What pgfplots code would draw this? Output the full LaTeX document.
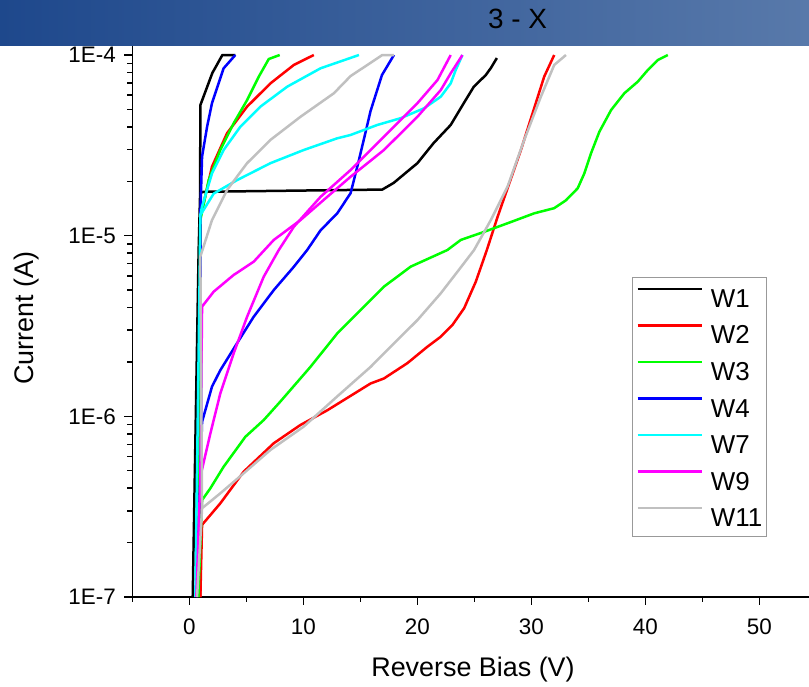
\documentclass[border=0pt]{standalone}
\usepackage{pgfplots}
\pgfplotsset{compat=1.18}
\usepackage{fontspec}
\setmainfont{Liberation Sans}
\definecolor{tbL}{RGB}{30,72,140}
\definecolor{tbR}{RGB}{88,121,170}
\definecolor{cRed}{RGB}{255,0,0}
\definecolor{cGreen}{RGB}{0,255,0}
\definecolor{cBlue}{RGB}{0,0,255}
\definecolor{cCyan}{RGB}{0,255,255}
\definecolor{cMag}{RGB}{255,0,255}
\definecolor{cGray}{RGB}{192,192,192}
\begin{document}
\begin{tikzpicture}
\path[use as bounding box] (0,0) rectangle (809bp,687bp);
\begin{axis}[
  at={(132.3bp,90bp)}, anchor=south west,
  scale only axis, width=676.7bp, height=551.3bp,
  xmin=-5, xmax=54.36, ymode=log, ymin=1e-7, ymax=1.1259e-4,
  axis x line*=bottom, axis y line*=left,
  axis line style={line width=1.5bp, black},
  xtick={0,10,20,30,40,50}, xticklabels={0,10,20,30,40,50},
  minor xtick={-5,5,15,25,35,45},
  ytick={1e-7,1e-6,1e-5,1e-4}, yticklabels={1E-7,1E-6,1E-5,1E-4},
  minor ytick={2e-7,3e-7,4e-7,5e-7,6e-7,7e-7,8e-7,9e-7,2e-6,3e-6,4e-6,5e-6,6e-6,7e-6,8e-6,9e-6,2e-5,3e-5,4e-5,5e-5,6e-5,7e-5,8e-5,9e-5},
  tick align=outside, major tick length=8bp, minor tick length=5bp,
  every tick/.style={black, line width=1.5bp},
  tick label style={font=\fontsize{22.5}{26}\selectfont},
  xticklabel style={yshift=-10bp},
  yticklabel style={xshift=-5bp},
  xlabel={Reverse Bias (V)}, ylabel={Current (A)},
  label style={font=\fontsize{27}{32}\selectfont},
  xlabel style={at={(axis description cs:0.5035,-0.1446)}, anchor=base},
  ylabel style={at={(axis description cs:-0.1463,0.506)}, anchor=base},
  legend style={at={(axis description cs:0.7384,0.5804)}, anchor=north west,
    draw=black!40, line width=1bp, fill=white,
    font=\fontsize{26}{30}\selectfont, inner xsep=4bp, inner ysep=10bp,
    row sep=16.7bp, column sep=8bp,
    nodes={inner sep=0pt, text height=18.6bp, text depth=0pt}},
  legend cell align=left,
  legend image code/.code={\draw[#1] (0bp,9.3bp) -- (64bp,9.3bp);},
  every axis plot/.append style={line width=2.5bp, line join=round},
]
% W1
\addplot[black] coordinates {(0.30,1e-7) (0.82,8.3e-6) (0.95,1.72e-5) (1.23,1.75e-5) (16.93,1.80e-5) (17.93,1.96e-5) (20.01,2.52e-5) (21.44,3.26e-5) (22.93,4.10e-5) (24.08,5.42e-5) (24.96,6.68e-5) (26.01,7.75e-5) (26.45,8.47e-5) (26.98,9.62e-5)};
\addlegendentry{W1}
\addplot[black, forget plot] coordinates {(0.95,1.72e-5) (0.97,5.28e-5) (2.02,7.95e-5) (2.90,1e-4) (4.04,1e-4)};
% W2
\addplot[cRed] coordinates {(0.97,1e-7) (1.12,2.51e-7) (2.72,3.30e-7) (4.77,4.94e-7) (7.41,7.10e-7) (9.75,8.96e-7) (12.10,1.08e-6) (15.90,1.52e-6) (17.07,1.62e-6) (19.13,1.97e-6) (20.89,2.43e-6) (22.06,2.76e-6) (23.09,3.21e-6) (24.11,3.97e-6) (25.13,5.56e-6) (26.10,8.33e-6) (27.04,1.27e-5) (29.09,2.98e-5) (31.13,7.59e-5) (32.01,1e-4)};
\addlegendentry{W2}
\addplot[cRed, forget plot] coordinates {(0.97,1e-7) (1.0,1.30e-5) (1.26,1.51e-5) (1.99,2.41e-5) (3.31,3.69e-5) (5.07,5.18e-5) (7.12,6.97e-5) (9.17,8.81e-5) (10.92,1e-4)};
% W3
\addplot[cGreen] coordinates {(0.79,1e-7) (1.12,3.44e-7) (1.85,4.0e-7) (3.01,5.26e-7) (4.92,7.71e-7) (6.53,9.54e-7) (8.00,1.21e-6) (10.63,1.88e-6) (12.98,2.88e-6) (15.91,4.41e-6) (17.07,5.22e-6) (19.42,6.74e-6) (22.64,8.33e-6) (23.81,9.47e-6) (25.86,1.05e-5) (28.21,1.19e-5) (30.26,1.33e-5) (32.01,1.42e-5) (33.04,1.57e-5) (34.07,1.83e-5) (34.65,2.21e-5) (35.24,2.86e-5) (35.97,3.76e-5) (37.00,4.96e-5) (38.16,6.14e-5) (39.34,7.12e-5) (40.22,8.26e-5) (41.10,9.38e-5) (41.98,1e-4)};
\addlegendentry{W3}
\addplot[cGreen, forget plot] coordinates {(0.79,1e-7) (0.97,1.22e-5) (1.70,2.03e-5) (2.72,2.98e-5) (3.89,4.19e-5) (5.07,5.63e-5) (6.09,7.58e-5) (6.97,9.50e-5) (7.93,1e-4)};
% W4
\addplot[cBlue] coordinates {(0.62,1e-7) (1.12,9.33e-7) (1.99,1.46e-6) (2.72,1.80e-6) (4.19,2.54e-6) (5.65,3.56e-6) (7.41,5.00e-6) (9.17,6.73e-6) (10.34,8.33e-6) (11.51,1.07e-5) (12.98,1.33e-5) (14.15,1.72e-5) (14.8,2.5e-5) (15.4,3.6e-5) (15.9,4.9e-5) (16.9,7.75e-5) (17.95,1e-4)};
\addlegendentry{W4}
\addplot[cBlue, forget plot] coordinates {(1.05,9.3e-7) (0.97,1.33e-5) (1.12,2.74e-5) (1.56,4.01e-5) (1.99,5.41e-5) (2.57,6.97e-5) (3.01,8.44e-5) (4.04,1e-4)};
% W7
\addplot[cCyan] coordinates {(0.53,1e-7) (0.88,4.4e-6) (0.97,1.30e-5) (2.14,1.71e-5) (4.19,2.03e-5) (7.12,2.52e-5) (10.04,2.98e-5) (12.98,3.46e-5) (14.15,3.61e-5) (16.49,4.10e-5) (18.54,4.47e-5) (20.59,5.07e-5) (22.06,5.88e-5) (22.93,6.97e-5) (23.37,8.26e-5) (23.96,1e-4)};
\addlegendentry{W7}
\addplot[cCyan, forget plot] coordinates {(0.97,1.30e-5) (1.12,1.45e-5) (1.99,2.21e-5) (3.01,2.98e-5) (4.48,4.01e-5) (6.24,5.18e-5) (8.59,6.68e-5) (11.51,8.44e-5) (14.88,1e-4)};
% W9
\addplot[cMag] coordinates {(0.62,1e-7) (0.97,4.64e-7) (1.85,8.05e-7) (2.72,1.34e-6) (3.89,2.23e-6) (5.07,3.56e-6) (6.53,5.93e-6) (7.85,8.33e-6) (9.17,1.12e-5) (11.51,1.64e-5) (14.15,2.31e-5) (17.07,3.53e-5) (20.01,5.41e-5) (21.77,7.27e-5) (22.93,1e-4)};
\addlegendentry{W9}
\addplot[cMag, forget plot] coordinates {(0.97,4.64e-7) (1.12,4.05e-6) (2.14,4.90e-6) (3.89,6.06e-6) (5.65,7.18e-6) (7.41,9.47e-6) (9.75,1.22e-5) (12.10,1.64e-5) (14.15,2.12e-5) (17.07,2.98e-5) (20.01,4.55e-5) (22.06,6.40e-5) (22.93,7.92e-5) (23.96,1e-4)};
% W11
\addplot[cGray] coordinates {(0.68,1e-7) (1.12,3.10e-7) (2.72,3.75e-7) (4.77,4.84e-7) (7.12,6.52e-7) (10.04,8.78e-7) (12.98,1.29e-6) (15.91,1.88e-6) (17.07,2.23e-6) (20.01,3.41e-6) (22.06,4.80e-6) (23.64,6.46e-6) (24.98,8.33e-6) (26.45,1.22e-5) (27.92,1.87e-5) (29.38,3.39e-5) (30.84,5.88e-5) (32.01,8.81e-5) (33.04,1e-4)};
\addlegendentry{W11}
\addplot[cGray, forget plot] coordinates {(1.12,3.10e-7) (0.97,7.66e-6) (1.99,1.22e-5) (3.31,1.79e-5) (5.07,2.52e-5) (7.12,3.39e-5) (9.75,4.55e-5) (12.68,6.14e-5) (14.15,7.65e-5) (15.62,8.81e-5) (16.93,1e-4) (17.95,1e-4)};
\end{axis}
\shade[left color=tbL, right color=tbR] (0,641.3bp) rectangle (809bp,687bp);
\node[anchor=base, font=\fontsize{28}{33}\selectfont, inner sep=0pt] at (517.5bp,658.7bp) {3 - X};
\end{tikzpicture}
\end{document}
